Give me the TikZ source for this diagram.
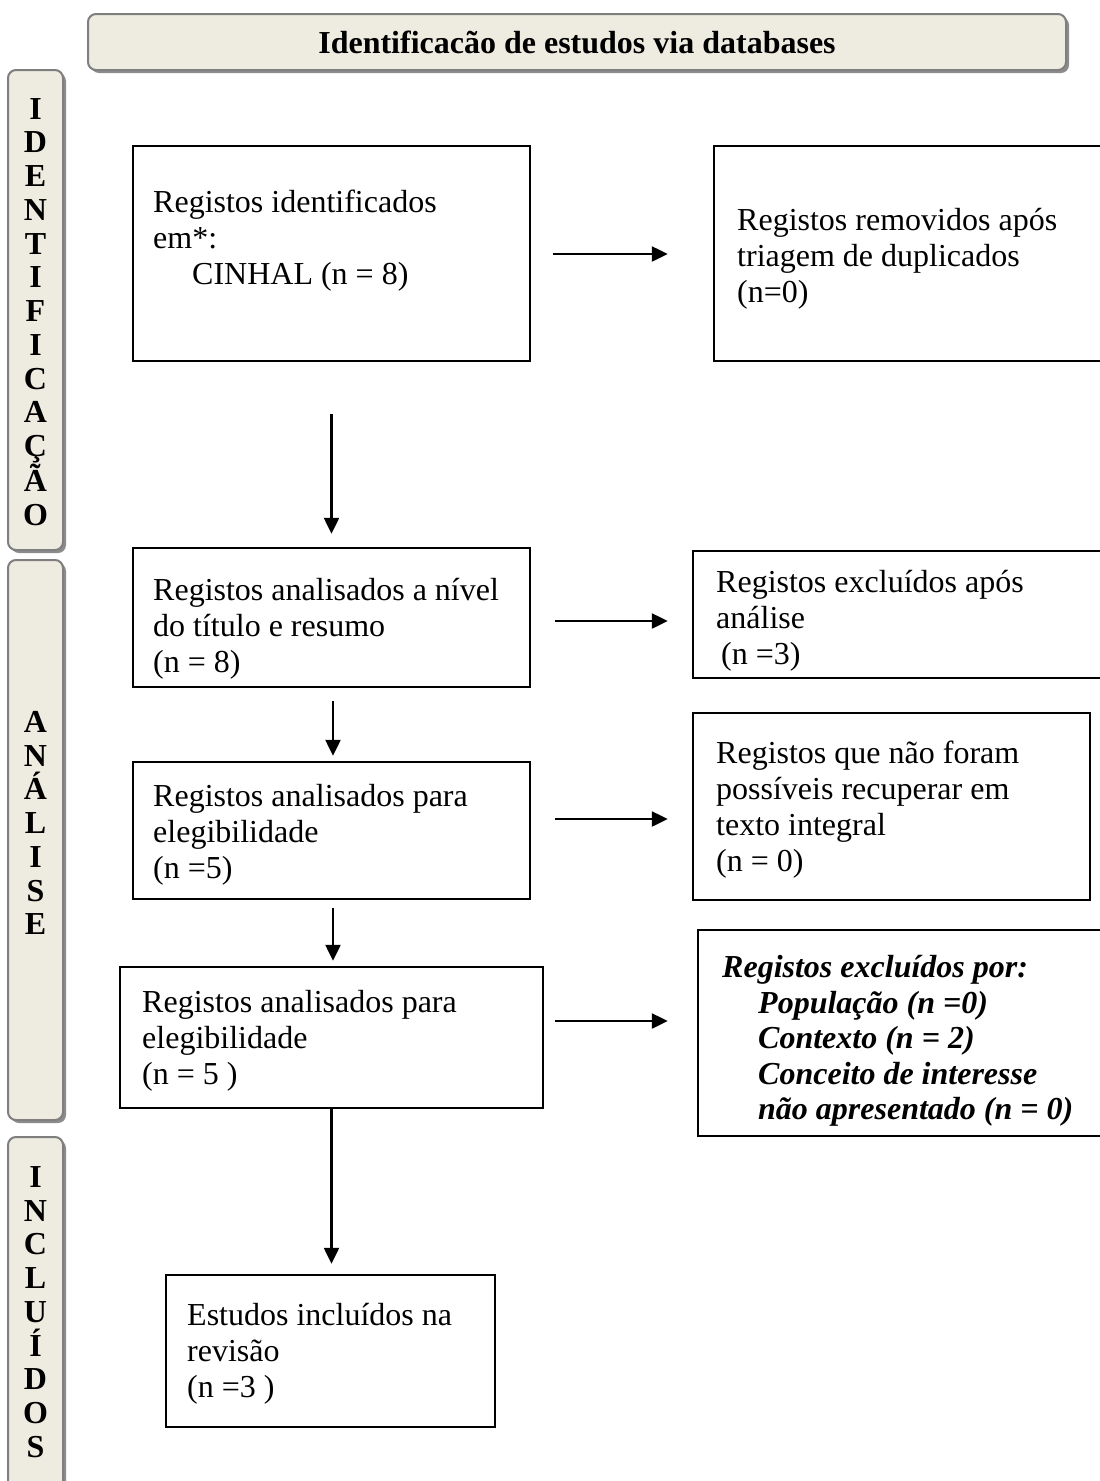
\documentclass[tikz,border=0pt]{standalone}
\usepackage{fontspec}
\setmainfont{Liberation Serif}
\usetikzlibrary{arrows.meta,calc,shadows}
\definecolor{barfill}{HTML}{EEECE1}
\definecolor{barline}{HTML}{7F7F7F}
\begin{document}
\begin{tikzpicture}[x=1pt,y=-1pt,
  box/.style={draw=black, line width=2.4pt, rectangle, inner sep=0pt},
  bar/.style={draw=barline, fill=barfill, line width=2pt, rounded corners=8pt, inner sep=0pt,
    drop shadow={shadow xshift=3pt, shadow yshift=-3pt, fill=black!45, opacity=1}},
  txt/.style={anchor=west, align=left, inner sep=0pt, font=\fontsize{32}{36}\selectfont},
  bartxt/.style={align=center, inner sep=0pt, font=\fontsize{32}{33.75}\selectfont\bfseries},
  arr/.style={line width=2.3pt, -{Triangle[length=16pt,width=15pt]}}]
\useasboundingbox (0,0) rectangle (1100,1481);
\fill[white] (0,0) rectangle (1100,1481);
\clip (0,0) rectangle (1100,1481);

% header
\node[bar, minimum width=978pt, minimum height=56pt, font=\fontsize{32}{36}\selectfont\bfseries] (hdr) at (577,42) {Identificacão de estudos via databases};

% side bars
\node[bar, minimum width=55pt, minimum height=480pt] (bar1) at (35.5,310) {};
\node[bar, minimum width=55pt, minimum height=560pt] (bar2) at (35.5,840) {};
\node[bar, minimum width=55pt, minimum height=363pt] (bar3) at (35.5,1318.5) {};
\node[bartxt] (l1) at (35.5,312) {I\\D\\E\\N\\T\\I\\F\\I\\C\\A\\Ç\\Ã\\O};
\node[bartxt] (l2) at (35.5,823) {A\\N\\Á\\L\\I\\S\\E};
\node[bartxt] (l3) at (35.5,1312) {I\\N\\C\\L\\U\\Í\\D\\O\\S};

% boxes
\node[box, minimum width=397pt, minimum height=215pt] (b1) at (331.5,253.5) {};
\node[box, minimum width=396pt, minimum height=215pt] (b2) at (912,253.5) {};
\node[box, minimum width=397pt, minimum height=139pt] (b3) at (331.5,617.5) {};
\node[box, minimum width=417pt, minimum height=127pt] (b4) at (901.5,614.5) {};
\node[box, minimum width=397pt, minimum height=137pt] (b5) at (331.5,830.5) {};
\node[box, minimum width=397pt, minimum height=187pt] (b6) at (891.5,806.5) {};
\node[box, minimum width=423pt, minimum height=141pt] (b7) at (331.5,1037.5) {};
\node[box, minimum width=412pt, minimum height=206pt] (b8) at (904,1033) {};
\node[box, minimum width=329pt, minimum height=152pt] (b9) at (330.5,1351) {};

% texts
\node[txt] (t1) at (153,241) {Registos identificados\\em*:\\\hspace*{39pt}CINHAL (n = 8)};
\node[txt] (t2) at (737,259) {Registos removidos após\\triagem de duplicados\\(n=0)};
\node[txt] (t3) at (153,629) {Registos analisados a nível\\do título e resumo\\(n = 8)};
\node[txt] (t4) at (716,621) {Registos excluídos após\\análise\\\hspace*{5pt}(n =3)};
\node[txt] (t5) at (153,835) {Registos analisados para\\elegibilidade\\(n =5)};
\node[txt] (t6) at (716,810) {Registos que não foram\\possíveis recuperar em\\texto integral\\(n = 0)};
\node[txt] (t7) at (142,1041) {Registos analisados para\\elegibilidade\\(n = 5 )};
\node[txt, font=\fontsize{32}{35.5}\selectfont\bfseries\itshape] (t8) at (722,1041) {Registos excluídos por:\\\hspace*{36pt}População (n =0)\\\hspace*{36pt}Contexto (n = 2)\\\hspace*{36pt}Conceito de interesse\\\hspace*{36pt}não apresentado (n = 0)};
\node[txt] (t9) at (187,1354) {Estudos incluídos na\\revisão\\(n =3 )};

% horizontal arrows
\draw[arr] ($(b1.east)+(22,0.5)$) -- ($(b2.west)+(-45,0.5)$);
\draw[arr] ($(b3.east)+(24,3.5)$) -- ($(b4.west)+(-24,6.5)$);
\draw[arr] ($(b5.east)+(24,-11.5)$) -- ($(b6.west)+(-24,12.5)$);
\draw[arr] ($(b7.east)+(11,-16.5)$) -- ($(b8.west)+(-29,-12)$);

% vertical arrows
\draw[arr] ($(b1.south)+(0,52)$) -- ($(b3.north)+(0,-13)$);
\draw[arr] ($(b3.south)+(1.5,13)$) -- ($(b5.north)+(1.5,-5)$);
\draw[arr] ($(b5.south)+(1.5,8)$) -- ($(b7.north)+(1.5,-5)$);
\draw[arr] (b7.south) -- ($(b7.south |- b9.north)+(0,-10)$);
\end{tikzpicture}
\end{document}
